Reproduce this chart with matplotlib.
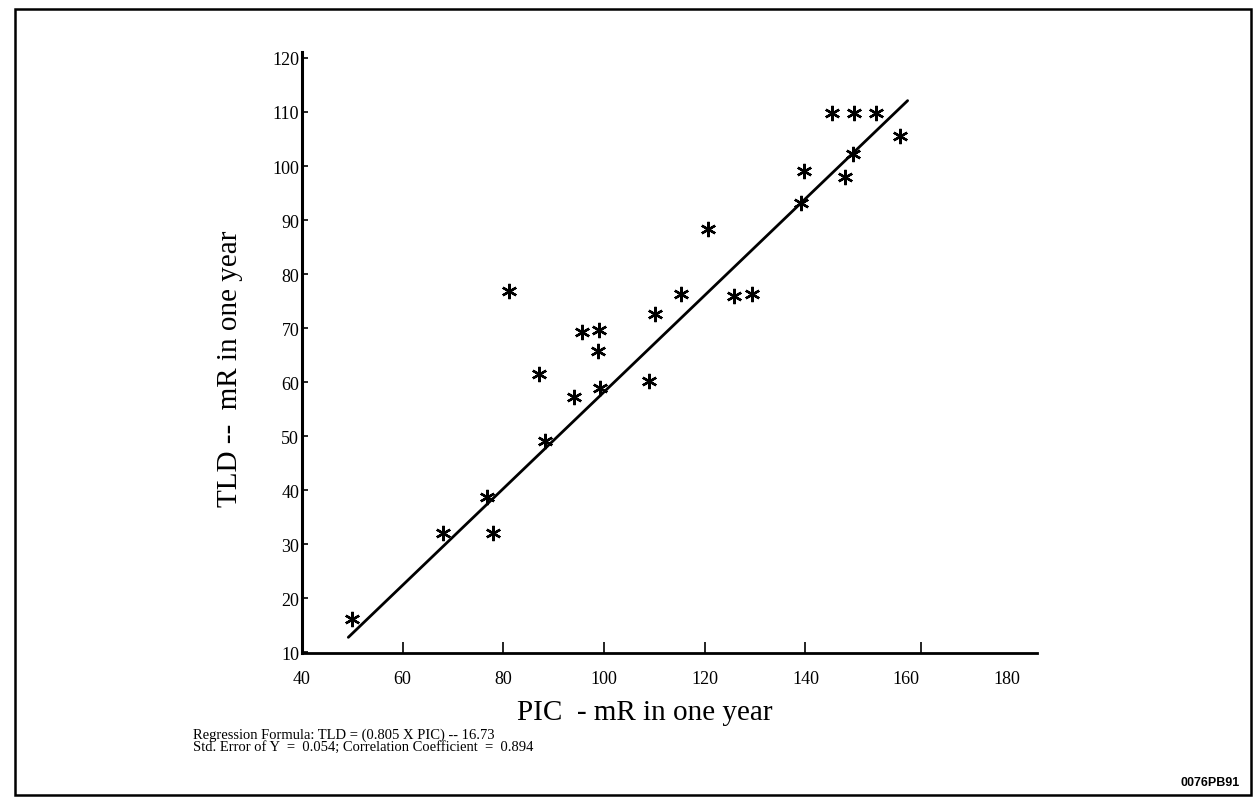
import numpy as np
import matplotlib
matplotlib.use("Agg")
from matplotlib import pyplot as plt
from matplotlib.patches import Rectangle

# PIC vs TLD readings (mR in one year)
pic = [49.9, 68.1, 78.0, 76.8, 88.2, 94.0, 99.1, 109.0, 87.0, 98.8, 95.6, 98.9, 110.1,
       115.3, 81.2, 125.9, 129.4, 120.7, 139.1, 147.9, 139.7, 149.4, 158.8, 145.3, 149.7, 154.1]
tld = [16.1, 32.1, 32.1, 38.7, 49.1, 57.2, 58.9, 60.3, 61.5, 65.7, 69.3, 69.6, 72.6,
       76.4, 76.9, 75.9, 76.3, 88.3, 93.2, 98.0, 99.0, 102.2, 105.5, 109.8, 109.8, 109.8]

# regression line as drawn on the original
fit_x = [49.2, 160.3]
fit_y = [12.8, 112.1]

x_labels = [40, 60, 80, 100, 120, 140, 160, 180]
x_tick_marks = [60, 80, 100, 120, 140, 163]
y_labels = [10, 20, 30, 40, 50, 60, 70, 80, 90, 100, 110, 120]

serif = "Liberation Serif"
W, H = 1255, 804

fig = plt.figure(figsize=(W / 100, H / 100), dpi=100)
fig.patch.set_facecolor("white")

# outer frame
fig.patches.append(Rectangle((15 / W, 1 - 796 / H), (1251 - 15) / W, (796 - 10) / H,
                             transform=fig.transFigure, fill=False, lw=1.8, ec="black"))

ax = fig.add_axes([302 / W, 1 - 654 / H, (1037 - 302) / W, (654 - 53) / H])
ax.set_xlim(40.4, 186.0)
ax.set_ylim(9.9, 121.1)

ax.plot(fit_x, fit_y, color="black", lw=2.0, solid_capstyle="round")
ax.plot(pic, tld, linestyle="none", marker=(6, 2, 0), ms=11, mew=1.7, color="black")

for side in ["top", "right"]:
    ax.spines[side].set_visible(False)
ax.spines["left"].set_linewidth(2.2)
ax.spines["bottom"].set_linewidth(2.0)

ax.xaxis.remove_overlapping_locs = False
ax.set_xticks(x_labels)
ax.set_xticklabels([str(v) for v in x_labels], fontfamily=serif, fontsize=13)
ax.tick_params(axis="x", which="major", length=0, pad=12)
ax.set_xticks(x_tick_marks, minor=True)
ax.tick_params(axis="x", which="minor", direction="in", length=8, width=1.2)

ax.set_yticks(y_labels)
ax.set_yticklabels([str(v) for v in y_labels], fontfamily=serif, fontsize=13)
ax.tick_params(axis="y", direction="in", length=4, width=1.2, pad=2)

fig.text(645 / W, 1 - 713 / H, "PIC  - mR in one year", fontfamily=serif, fontsize=21,
         ha="center", va="center")
fig.text(230 / W, 1 - 369 / H, "TLD --  mR in one year", fontfamily=serif, fontsize=21,
         ha="center", va="center", rotation=90)

fig.text(193 / W, 1 - 739 / H, "Regression Formula: TLD = (0.805 X PIC) -- 16.73",
         fontfamily=serif, fontsize=10.5, va="baseline")
fig.text(193 / W, 1 - 751 / H, "Std. Error of Y  =  0.054; Correlation Coefficient  =  0.894",
         fontfamily=serif, fontsize=10.5, va="baseline")
fig.text(1240 / W, 1 - 783 / H, "0076PB91", fontfamily="Liberation Sans",
         fontweight="bold", fontsize=9, ha="right", va="center")

fig.savefig("out.png", dpi=100)
